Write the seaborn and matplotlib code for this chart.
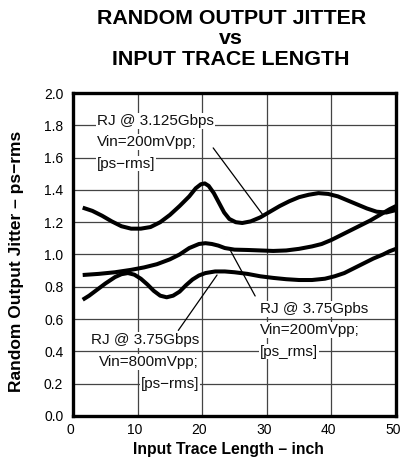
import numpy as np
import pandas as pd
import seaborn as sns
import matplotlib
matplotlib.use("Agg")
import matplotlib.pyplot as plt
from matplotlib.transforms import ScaledTranslation

# punti delle curve
x_3125 = [1.5, 3, 4.5, 6, 7.5, 9, 10.5, 12, 13.5, 15, 16.5, 18, 19, 19.8, 20.4, 21,
          21.8, 22.6, 23.4, 24.2, 25.2, 26.2, 27.5, 29, 30.5, 32, 33.5, 35, 36.5, 38,
          39.5, 41, 42.5, 44, 45.5, 47, 48.5, 50]
y_3125 = [1.29, 1.27, 1.24, 1.205, 1.175, 1.16, 1.16, 1.17, 1.20, 1.245, 1.30, 1.36,
          1.41, 1.435, 1.44, 1.425, 1.38, 1.32, 1.26, 1.22, 1.20, 1.195, 1.205, 1.23,
          1.265, 1.30, 1.33, 1.355, 1.37, 1.38, 1.375, 1.36, 1.335, 1.31, 1.285, 1.265,
          1.26, 1.275]

x_375_200 = [1.5, 4, 6.5, 9, 11, 13, 15, 16.5, 18, 19.5, 20.5, 21.5, 22.5, 23.5, 25,
             27, 29, 31, 33, 35, 37, 38.5, 40, 41.5, 43, 44.5, 46, 47.5, 49, 50]
y_375_200 = [0.873, 0.88, 0.89, 0.905, 0.92, 0.94, 0.97, 1.00, 1.04, 1.065, 1.07,
             1.065, 1.055, 1.04, 1.03, 1.028, 1.025, 1.022, 1.025, 1.035, 1.05, 1.065,
             1.09, 1.12, 1.15, 1.18, 1.21, 1.245, 1.28, 1.30]

x_375_800 = [1.5, 2.5, 3.5, 5, 6.5, 7.5, 8.5, 9.5, 10.5, 11.5, 12.5, 13.5, 14.5, 15.5,
             16.5, 17.5, 18.5, 19.5, 20.5, 22, 23.5, 25, 27, 29, 31, 33, 35, 37, 39,
             40.5, 42, 43.5, 45, 46.5, 48, 49, 50]
y_375_800 = [0.72, 0.745, 0.775, 0.82, 0.86, 0.878, 0.885, 0.875, 0.85, 0.815, 0.775,
             0.745, 0.735, 0.745, 0.77, 0.81, 0.845, 0.87, 0.885, 0.895, 0.895, 0.89,
             0.88, 0.865, 0.855, 0.847, 0.842, 0.842, 0.85, 0.865, 0.885, 0.915, 0.945,
             0.975, 1.0, 1.02, 1.035]

x_ticks = [0, 10, 20, 30, 40, 50]
y_ticks = [0.0, 0.2, 0.4, 0.6, 0.8, 1.0, 1.2, 1.4, 1.6, 1.8, 2.0]

# testi delle etichette
lab_3125 = ["RJ @ 3.125Gbps", "Vin=200mVpp;", "[ps\u2212rms]"]
lab_375_800 = ["RJ @ 3.75Gbps", "Vin=800mVpp;", "[ps\u2212rms]"]
lab_375_200 = ["RJ @ 3.75Gpbs", "Vin=200mVpp;", "[ps_rms]"]

df = pd.concat([
    pd.DataFrame({"x": x_3125, "y": y_3125, "serie": "3125_200"}),
    pd.DataFrame({"x": x_375_200, "y": y_375_200, "serie": "375_200"}),
    pd.DataFrame({"x": x_375_800, "y": y_375_800, "serie": "375_800"}),
])

sns.set_theme(style="whitegrid")
plt.rcParams["font.family"] = ["Liberation Sans", "DejaVu Sans"]
plt.rcParams["text.color"] = "black"

fig = plt.figure(figsize=(4.02, 4.62), dpi=100)
ax = fig.add_axes([0.1816, 0.0996, 0.8034, 0.6991])

sns.lineplot(data=df, x="x", y="y", units="serie", estimator=None, color="black",
             linewidth=2.9, ax=ax, sort=False, solid_joinstyle="round",
             solid_capstyle="butt")

ax.set_xlim(0, 50)
ax.set_ylim(0, 2.0)
ax.set_xticks(x_ticks)
ax.set_yticks(y_ticks)
ax.set_xticklabels([str(v) for v in x_ticks], fontsize=10, color="black")
ax.set_yticklabels([f"{v:.1f}" for v in y_ticks], fontsize=10, color="black")
ax.tick_params(axis="x", length=0, pad=5)
ax.tick_params(axis="y", length=0, pad=7)
for lab in ax.get_xticklabels():
    lab.set_transform(lab.get_transform() + ScaledTranslation(-0.03, 0, fig.dpi_scale_trans))
ax.grid(True, color="#444444", linewidth=0.9)
for s in ax.spines.values():
    s.set_color("black")
    s.set_linewidth(2.4)

ax.set_xlabel("Input Trace Length \u2013 inch", fontsize=11.3, fontweight="bold",
              color="black")
ax.xaxis.set_label_coords(0.48, -0.08)
ax.set_ylabel("Random Output Jitter \u2013 ps\u2212rms", fontsize=12.5, fontweight="bold",
              color="black")
ax.yaxis.set_label_coords(-0.152, 0.478)

fig.text(0.575, 0.9816, "RANDOM OUTPUT JITTER\nvs\nINPUT TRACE LENGTH", ha="center",
         va="top", fontsize=15.4, fontweight="bold", linespacing=1.13, color="black")

box = dict(facecolor="white", edgecolor="none", pad=0.6)

# etichetta 3.125Gbps
for i, t in enumerate(lab_3125):
    ax.text(3.7, 1.827 - 0.132 * i, t, ha="left", va="center", fontsize=11,
            bbox=box, color="#111111")
ax.plot([21.7, 29.4], [1.66, 1.245], color="black", linewidth=0.9)

# etichetta 3.75Gbps 800mVpp
for i, t in enumerate(lab_375_800):
    ax.text(19.5, 0.47 - 0.135 * i, t, ha="right", va="center", fontsize=11,
            bbox=box, color="#111111")
ax.plot([16.3, 22.3], [0.53, 0.873], color="black", linewidth=0.9)

# etichetta 3.75Gpbs 200mVpp
for i, t in enumerate(lab_375_200):
    ax.text(28.9, 0.663 - 0.132 * i, t, ha="left", va="center", fontsize=11,
            bbox=box, color="#111111")
ax.plot([28.2, 24.3], [0.743, 1.03], color="black", linewidth=0.9)

fig.savefig("out.png", dpi=100)
